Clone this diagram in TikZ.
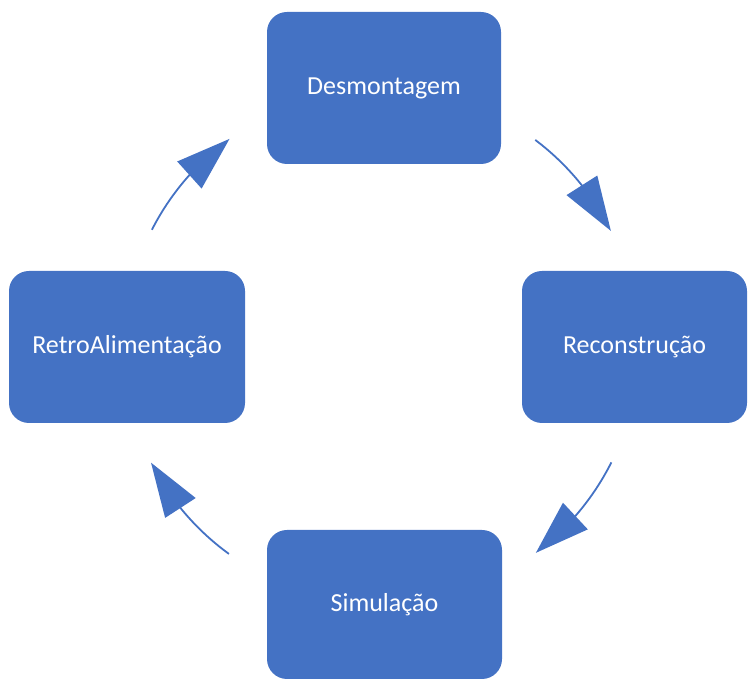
\documentclass[tikz,border=0pt]{standalone}
\usepackage{fontspec}
\setmainfont{Carlito}
\usetikzlibrary{arrows.meta,bending}
\definecolor{boxblue}{HTML}{4472C4}
\begin{document}
\begin{tikzpicture}[x=1pt,y=1pt,
  stage/.style={draw=none,fill=boxblue,rounded corners=20pt,text=white,font=\fontsize{26}{30}\selectfont,inner sep=0pt},
  cyc/.style={draw=boxblue,line width=1.8pt,-{Triangle[length=54pt,width=36pt,flex]}}]
\useasboundingbox (0,0) rectangle (748,680);
\node[stage,minimum width=234pt,minimum height=152pt] (des) at (384,592) {Desmontagem};
\node[stage,minimum width=225pt,minimum height=152pt] (rec) at (634.5,333) {Reconstrução};
\node[stage,minimum width=235pt,minimum height=149pt] (sim) at (384.5,75.5) {Simulação};
\node[stage,minimum width=236pt,minimum height=152pt] (ret) at (127,333) {RetroAlimentação};
\coordinate (c) at (380,334);
\coordinate (a1) at ([shift={(53:258)}]c);
\coordinate (a2) at ([shift={(153:256)}]c);
\coordinate (a3) at ([shift={(-26.7:259)}]c);
\coordinate (a4) at ([shift={(234:257)}]c);
\draw[cyc] (a1) arc[start angle=53,end angle=26.5,radius=258];
\draw[cyc] (a3) arc[start angle=-26.7,end angle=-53,radius=259];
\draw[cyc] (a4) arc[start angle=234,end angle=207,radius=257];
\draw[cyc] (a2) arc[start angle=153,end angle=126,radius=256];
\end{tikzpicture}
\end{document}
